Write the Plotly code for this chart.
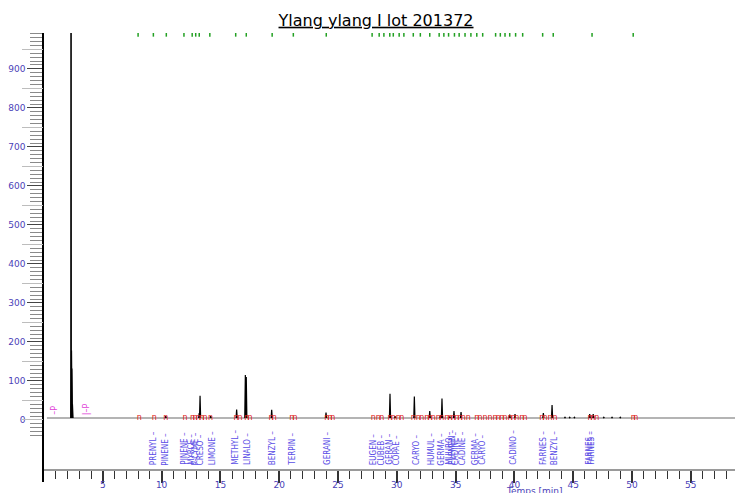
import plotly.graph_objects as go

# ---------------- data ----------------
# retention time (min) and signal height of each peak
peak_rt = [2.30, 2.34, 2.37, 2.42, 10.35, 13.20, 13.27, 14.17, 16.38, 17.12, 17.20,
           19.36, 23.98, 29.42, 29.85, 31.49, 32.80, 33.70, 33.84, 34.50, 34.86,
           35.46, 39.60, 40.05, 42.46, 43.20, 44.3, 44.7, 45.1, 46.40, 46.70,
           47.6, 48.3, 49.0]
peak_height = [3000, 178, 132, 40, 10, 18, 62, 10, 27, 115, 110,
               26, 19, 67, 10, 60, 23, 12, 55, 9, 23,
               20, 14, 15, 18, 38, 7, 7, 7, 15, 15,
               7, 7, 7]
baseline_level = 5
run_start, run_end = 0.25, 59.2

# integration start/end marks (red)
red_marks_rt = [8.10, 9.38, 10.35, 11.99, 12.64, 12.84, 13.12, 13.41, 13.69, 14.17,
                16.33, 16.67, 17.24, 17.52, 19.30, 19.58, 21.06, 21.34, 24.04, 24.32,
                24.55, 28.00, 28.43, 28.72, 29.42, 29.70, 30.13, 30.42, 31.40, 31.83,
                32.12, 32.54, 32.82, 33.10, 33.53, 33.82, 34.24, 34.52, 34.80, 35.09,
                35.37, 35.66, 36.08, 36.79, 37.07, 37.50, 37.93, 38.35, 38.63, 38.92,
                39.20, 39.63, 39.91, 40.20, 40.62, 40.90, 42.32, 42.60, 43.03, 43.45,
                46.43, 46.66, 47.00, 50.11, 50.31]

# expected retention times (green marks at top)
green_marks_rt = [8.0, 9.3, 10.4, 11.9, 12.6, 12.9, 13.2, 14.1, 16.3, 17.2, 19.4, 21.2,
                  24.0, 27.9, 28.5, 28.9, 29.4, 29.7, 30.2, 30.6, 31.4, 32.0, 32.8, 33.6,
                  34.0, 34.4, 34.9, 35.3, 35.8, 36.3, 36.8, 37.3, 38.4, 38.8, 39.2, 39.6,
                  40.1, 40.7, 42.4, 43.3, 46.6, 50.1]

# identified compounds (blue labels)
label_rt = [9.27, 10.37, 11.99, 12.59, 12.90, 13.32, 14.29, 16.33, 17.24, 19.39, 21.17,
            24.04, 27.98, 28.72, 29.42, 29.93, 31.61, 32.91, 33.84, 34.41, 34.67, 34.95,
            35.54, 36.69, 37.29, 39.97, 42.41, 43.37, 46.39, 46.56]
label_names = ["PRENYL", "PINENE", "PINENE", "MYRCE", "P-CYME", "CRESO", "LIMONE",
               "METHYL", "LINALO", "BENZYL", "TERPIN", "GERANI", "EUGEN", "CUBEB",
               "GERAN", "COPAE", "CARYO", "HUMUL", "GERMA", "MUURO", "ELEMEN", "CADINE",
               "CADINE", "GERMA", "CARYO", "CADINO", "FARNES", "BENZYL", "FARNES", "FARNES"]

# integration event marks (magenta)
p_marks_rt = [0.94, 3.57]
p_marks_text = ["–P", "|–P"]

x_major = [5, 10, 15, 20, 25, 30, 35, 40, 45, 50, 55]
x_minor = list(range(1, 60))
y_major = [0, 100, 200, 300, 400, 500, 600, 700, 800, 900]
y_mid = [0, 50, 150, 250, 350, 450, 550, 650, 750, 850, 950]
y_minor = list(range(-40, 1000, 10))

# ---------------- figure ----------------
AXIS_BLUE = "#4a42b8"
LABEL_BLUE = "#5b4ee6"
NARROW = "Liberation Sans Narrow, DejaVu Sans Condensed, sans-serif"

spike_x, spike_y = [], []
for t, h in zip(peak_rt, peak_height):
    hw = 0.025 if h > 500 else 0.05
    spike_x += [t - hw, t, t + hw, None]
    spike_y += [baseline_level, h, baseline_level, None]

fig = go.Figure()

fig.add_trace(go.Scatter(x=[run_start, run_end], y=[baseline_level, baseline_level],
                         mode="lines", line=dict(color="#b4b4b4", width=2),
                         hoverinfo="skip", showlegend=False))
fig.add_trace(go.Scatter(x=spike_x, y=spike_y, mode="lines",
                         line=dict(color="black", width=1.2),
                         hoverinfo="skip", showlegend=False))
fig.add_trace(go.Scatter(x=red_marks_rt, y=[baseline_level] * len(red_marks_rt),
                         mode="text", text=["n"] * len(red_marks_rt),
                         textfont=dict(family="DejaVu Sans", size=8, color="#e02020"),
                         hoverinfo="skip", showlegend=False))
fig.add_trace(go.Scatter(x=green_marks_rt, y=[988] * len(green_marks_rt),
                         mode="markers",
                         marker=dict(symbol="line-ns", size=3,
                                     line=dict(color="#22a022", width=1.5)),
                         hoverinfo="skip", showlegend=False))
# invisible trace to activate the overlay axis for mid ticks
fig.add_trace(go.Scatter(x=[run_start], y=[baseline_level], yaxis="y2", mode="markers",
                         marker=dict(opacity=0), hoverinfo="skip", showlegend=False))

for t, name in zip(label_rt, label_names):
    fig.add_annotation(x=t, y=-121, xref="x", yref="y", text=name + " –",
                       textangle=-90, showarrow=False, xanchor="center", yanchor="bottom",
                       font=dict(family=NARROW, size=8, color=LABEL_BLUE))

for t, txt in zip(p_marks_rt, p_marks_text):
    fig.add_annotation(x=t, y=baseline_level + 2, xref="x", yref="y", text=txt,
                       textangle=-90, showarrow=False, xanchor="center", yanchor="bottom",
                       font=dict(family="DejaVu Sans", size=8, color="#e040d8"))

fig.add_annotation(x=0.705, y=-0.02, xref="paper", yref="paper", text="Temps [min]",
                   showarrow=False, xanchor="center", yanchor="middle",
                   font=dict(family="DejaVu Sans", size=9, color=AXIS_BLUE))

# the page body adds an 8px offset, so the figure is sized to fit the window
yrange = [-159, 992]
fig.update_layout(
    width=735, height=485,
    margin=dict(l=36, r=3, t=25, b=11, autoexpand=False),
    paper_bgcolor="white", plot_bgcolor="white",
    title=dict(text="<u>Ylang ylang I lot 201372</u>", x=0.5007, xref="container",
               y=0.975, yref="container", xanchor="center", yanchor="middle",
               font=dict(family="DejaVu Sans", size=16, color="black")),
    xaxis=dict(range=[0, 59.18], anchor="free", position=0.0267, automargin=False,
               showgrid=False, zeroline=False,
               showline=True, linecolor="#9a9a9a", linewidth=2,
               tickmode="array", tickvals=x_major, ticktext=[str(v) for v in x_major],
               ticks="outside", ticklen=12, tickwidth=1.5, tickcolor="#333333",
               ticklabelstandoff=-6,
               tickfont=dict(family="DejaVu Sans", size=9, color=AXIS_BLUE),
               minor=dict(tickmode="array", tickvals=x_minor, ticks="outside",
                          ticklen=8, tickwidth=1, tickcolor="#333333")),
    yaxis=dict(range=yrange, anchor="x", showgrid=False, zeroline=False, automargin=False,
               showline=True, linecolor="black", linewidth=1.5,
               tickmode="array", tickvals=y_major, ticktext=[str(v) for v in y_major],
               ticks="outside", ticklen=15, tickwidth=1.2, tickcolor="#444444",
               tickfont=dict(family="DejaVu Sans", size=9, color=AXIS_BLUE),
               minor=dict(tickmode="array", tickvals=y_minor, ticks="outside",
                          ticklen=12, tickwidth=1, tickcolor="#8a8a8a")),
    yaxis2=dict(range=yrange, overlaying="y", anchor="x", side="left", automargin=False,
                showgrid=False, zeroline=False, showline=False,
                tickmode="array", tickvals=y_mid, showticklabels=False,
                ticks="outside", ticklen=21, tickwidth=1.2, tickcolor="#bdbdbd"),
)

fig.write_html("out.html")
